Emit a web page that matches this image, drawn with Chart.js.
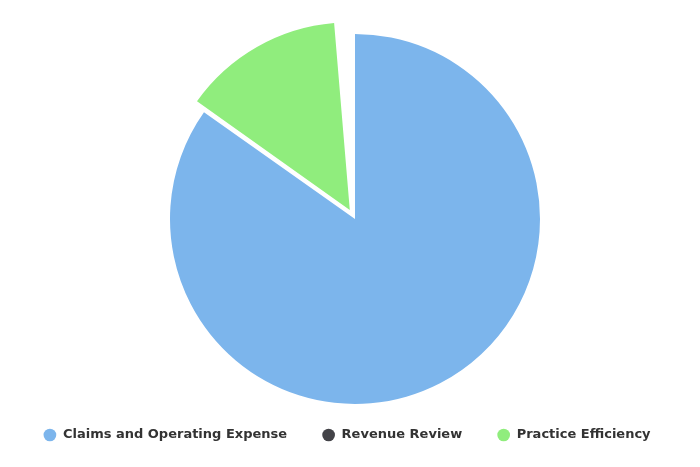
<!DOCTYPE html>
<html><head><meta charset="utf-8">
<script src="https://cdn.jsdelivr.net/npm/chart.js@4.4.1/dist/chart.umd.min.js"></script>
<style>html,body{margin:0;padding:0;background:#fff;} #wrap{width:700px;height:467px;position:relative;}</style>
</head><body><div id="wrap"><canvas id="c" width="700" height="467"></canvas></div>
<script>
const categories = ['Claims and Operating Expense', 'Revenue Review', 'Practice Efficiency'];
const shares = [84.8, 0, 13.9];
const colors = ['#7cb5ec', '#434348', '#90ed7d'];
const slicedOffsets = [0, 0, 42];
const total = shares.reduce((a, b) => a + b, 0);

const shiftPie = {
  id: 'shiftPie',
  beforeDatasetsDraw(chart) { chart.ctx.save(); chart.ctx.translate(8, 0); },
  afterDatasetsDraw(chart) { chart.ctx.restore(); }
};

new Chart(document.getElementById('c'), {
  type: 'pie',
  data: {
    labels: categories,
    datasets: [{
      data: shares,
      backgroundColor: colors,
      borderColor: '#ffffff',
      borderWidth: 0,
      offset: slicedOffsets,
      hoverOffset: 0,
      radius: 185,
      rotation: 0,
      circumference: total / 100 * 360
    }]
  },
  options: {
    responsive: false,
    animation: false,
    layout: { padding: { top: 44.5, bottom: 15.5, left: 0, right: 6 } },
    plugins: {
      legend: {
        position: 'bottom',
        labels: {
          usePointStyle: true,
          pointStyle: 'circle',
          boxHeight: 9,
          padding: 35,
          color: '#333333',
          font: { family: 'DejaVu Sans', size: 13, weight: 'bold' }
        }
      },
      tooltip: { enabled: false }
    }
  },
  plugins: [shiftPie]
});
</script>
</body></html>
